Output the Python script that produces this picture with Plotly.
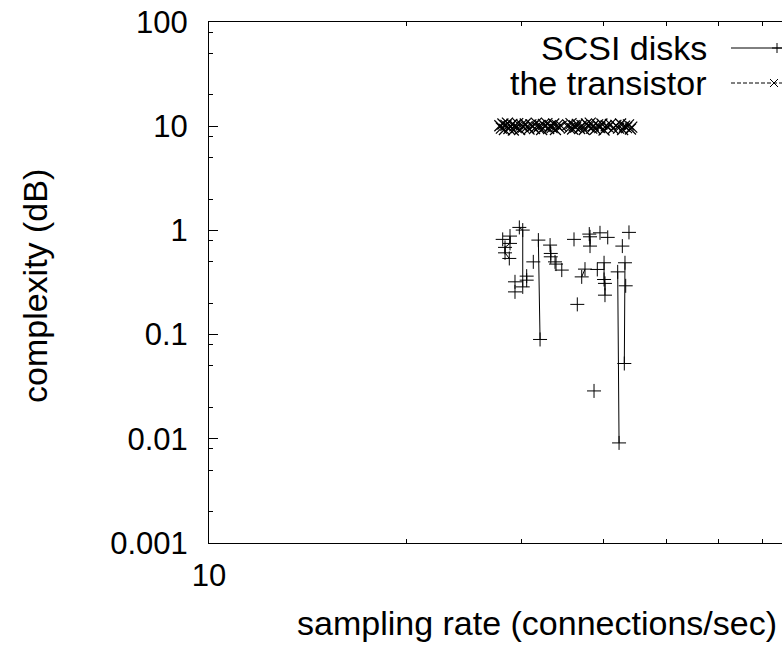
import plotly.graph_objects as go

# ---------------- data ----------------
# SCSI disks (None separates line groups)
scsi_x = [28.08, None,
          28.81, 28.81, 28.31, 28.31, 28.74, None,
          29.32, None, 29.32, None,
          29.77, 30.13, 30.13, None,
          30.55, 30.55, None,
          31.27, None,
          31.83, 32.02, None,
          33.17, 33.25, 33.25, None,
          33.75, None, 33.87, None, 34.56, None,
          36.08, None, 36.50, None,
          37.07, 37.50, None,
          38.07, 38.17, 38.17, None,
          38.71, None, 39.16, None, 39.53, None,
          40.10, 40.10, 40.23, 40.23, None,
          40.62, None,
          42.07, 42.27, None,
          42.76, None,
          43.16, 43.06, None,
          43.27, None, 43.77]
scsi_y = [0.820, None,
          0.882, 0.750, 0.687, 0.609, 0.538, None,
          0.321, None, 0.257, None,
          1.068, 1.007, 0.287, None,
          0.364, 0.333, None,
          0.499, None,
          0.807, 0.0898, None,
          0.723, 0.601, 0.558, None,
          0.499, None, 0.475, None, 0.416, None,
          0.820, None, 0.195, None,
          0.358, 0.425, None,
          0.922, 0.868, 0.707, None,
          0.0288, None, 0.422, None, 0.948, None,
          0.489, 0.338, 0.310, 0.239, None,
          0.857, None,
          0.400, 0.00913, None,
          0.707, None,
          0.489, 0.0528, None,
          0.294, None, 0.957]

# the transistor
trans_x = [27.8, 27.95, 28.1, 28.25, 28.4, 28.55, 28.7, 28.85, 29.0, 29.15,
           29.3, 29.45, 29.6, 29.8, 30.0, 30.2, 30.4, 30.6, 30.8, 31.0,
           31.2, 31.4, 31.6, 31.8, 32.0, 32.2, 32.4, 32.6, 32.8, 33.0,
           33.2, 33.4, 33.6, 33.8, 34.0, 34.2, 34.5, 35.3, 35.5, 35.7,
           35.9, 36.1, 36.3, 36.5, 36.8, 37.1, 37.4, 37.7, 38.0, 38.2,
           38.4, 38.6, 38.9, 39.2, 39.5, 39.8, 40.1, 40.4, 40.7, 41.0,
           41.4, 41.8, 42.2, 42.5, 42.8, 43.1, 43.4, 43.7, 44.0, 44.2]
trans_y = [10.1, 9.6, 10.5, 9.3, 10.2, 10.7, 9.5, 10.0, 10.4, 9.2,
           10.1, 9.7, 10.6, 9.3, 10.3, 9.8, 10.5, 9.9, 9.4, 10.3,
           10.0, 9.5, 10.7, 9.7, 10.2, 9.3, 10.4, 9.9, 10.6, 9.5,
           10.1, 9.7, 10.5, 9.3, 10.2, 9.8, 10.0, 10.3, 9.6, 10.6,
           9.4, 10.1, 9.8, 10.4, 9.5, 10.2, 9.3, 10.5, 9.9, 10.7,
           9.6, 10.1, 9.4, 10.3, 9.7, 10.5, 9.2, 10.1, 9.8, 10.4,
           9.5, 10.2, 9.6, 10.5, 9.3, 10.0, 9.7, 10.3, 9.4, 9.8]

y_tickvals = [0.001, 0.01, 0.1, 1, 10, 100]
y_ticktext = ["0.001", "0.01", "0.1", "1", "10", "100"]
y_minor = [m * d for d in [0.001, 0.01, 0.1, 1, 10] for m in (2, 5, 8)]
x_tickvals = [10]
x_ticktext = ["10"]
x_minor = [20, 30, 40, 50, 60, 70, 80, 90]

legend_names = ["SCSI disks", "the transistor"]
x_title = "sampling rate (connections/sec)"
y_title = "complexity (dB)"

# ---------------- layout geometry (pixels) ----------------
W, H = 782, 648
L, T = 209, 22
B_PX = 543
PW = W - L
PH = B_PX - T
FONT = "Liberation Sans, Arial, Helvetica, sans-serif"
FS = 34
TFS = 31


def px(xp):
    return (xp - L) / PW


def py(yp):
    return (B_PX - yp) / PH


fig = go.Figure()
fig.add_trace(go.Scatter(
    x=scsi_x, y=scsi_y, mode="lines+markers", name=legend_names[0],
    line=dict(color="black", width=1),
    marker=dict(symbol="cross-thin", size=10, line=dict(color="black", width=1)),
    showlegend=False, connectgaps=False))
fig.add_trace(go.Scatter(
    x=trans_x, y=trans_y, mode="markers", name=legend_names[1],
    marker=dict(symbol="x-thin", size=11, line=dict(color="black", width=1.2)),
    showlegend=False))

# manual gnuplot-style key
shapes = []
rows = [(48, "solid", "cross", 777), (83, "4px,2px", "x", 774)]
for (yrow, dash, sym, cx) in rows:
    shapes.append(dict(type="line", xref="paper", yref="paper",
                       x0=px(731), x1=px(830), y0=py(yrow), y1=py(yrow),
                       line=dict(color="black", width=1, dash=dash)))
    if sym == "cross":
        shapes.append(dict(type="line", xref="paper", yref="paper",
                           x0=px(cx - 5), x1=px(cx + 5), y0=py(yrow), y1=py(yrow),
                           line=dict(color="black", width=1)))
        shapes.append(dict(type="line", xref="paper", yref="paper",
                           x0=px(cx), x1=px(cx), y0=py(yrow - 5), y1=py(yrow + 5),
                           line=dict(color="black", width=1)))
    else:
        shapes.append(dict(type="line", xref="paper", yref="paper",
                           x0=px(cx - 4), x1=px(cx + 4), y0=py(yrow - 4), y1=py(yrow + 4),
                           line=dict(color="black", width=1)))
        shapes.append(dict(type="line", xref="paper", yref="paper",
                           x0=px(cx - 4), x1=px(cx + 4), y0=py(yrow + 4), y1=py(yrow - 4),
                           line=dict(color="black", width=1)))

annotations = []
for (yrow, _, _, _), name in zip(rows, legend_names):
    annotations.append(dict(text=name, xref="paper", yref="paper",
                            x=px(709), y=py(yrow), xanchor="right", yanchor="middle",
                            showarrow=False, font=dict(family=FONT, size=FS, color="black")))
annotations.append(dict(text=x_title, xref="paper", yref="paper",
                        x=px(536.5), y=py(623), xanchor="center", yanchor="middle",
                        showarrow=False, font=dict(family=FONT, size=FS, color="black")))
annotations.append(dict(text=y_title, xref="paper", yref="paper",
                        x=px(35), y=py(286), xanchor="center", yanchor="middle",
                        textangle=-90,
                        showarrow=False, font=dict(family=FONT, size=FS, color="black")))

fig.update_layout(
    width=W, height=H,
    margin=dict(l=L, r=0, t=T, b=H - B_PX, pad=0),
    paper_bgcolor="white", plot_bgcolor="white",
    font=dict(family=FONT, size=TFS, color="black"),
    shapes=shapes, annotations=annotations,
    showlegend=False,
)
fig.update_xaxes(
    type="log", range=[1, 1 + 573 / 655],
    showgrid=False, zeroline=False,
    showline=True, linecolor="black", linewidth=1, mirror="allticks",
    ticks="inside", ticklen=9, tickcolor="black", tickwidth=1,
    tickmode="array", tickvals=x_tickvals, ticktext=x_ticktext,
    tickfont=dict(family=FONT, size=TFS, color="black"),
    ticklabelstandoff=5,
    minor=dict(tickmode="array", tickvals=x_minor, ticks="inside", ticklen=4,
               tickcolor="black", tickwidth=1, showgrid=False),
)
fig.update_yaxes(
    type="log", range=[-3, 2],
    showgrid=False, zeroline=False,
    showline=True, linecolor="black", linewidth=1, mirror=False,
    ticks="inside", ticklen=9, tickcolor="black", tickwidth=1,
    tickmode="array", tickvals=y_tickvals, ticktext=y_ticktext,
    tickfont=dict(family=FONT, size=TFS, color="black"),
    ticklabelstandoff=14,
    minor=dict(tickmode="array", tickvals=y_minor, ticks="inside", ticklen=4,
               tickcolor="black", tickwidth=1, showgrid=False),
)

fig.write_html("out.html", config={"displayModeBar": False})
